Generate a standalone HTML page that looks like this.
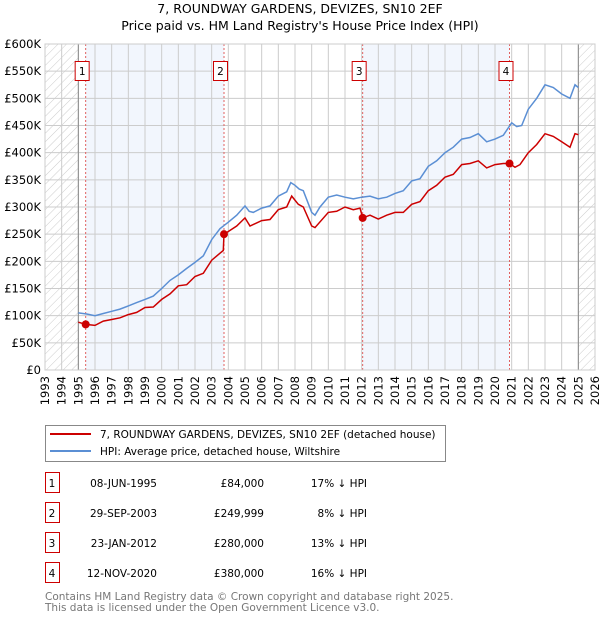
<!DOCTYPE html>
<html><head><meta charset="utf-8"><style>
body{margin:0;background:#fff;font-family:"DejaVu Sans","Liberation Sans",sans-serif;}
svg text{font-family:"DejaVu Sans","Liberation Sans",sans-serif;}
</style></head><body>
<svg id="chart" width="600" height="620" xmlns="http://www.w3.org/2000/svg">
<text x="300" y="13" font-size="12.5" text-anchor="middle">7, ROUNDWAY GARDENS, DEVIZES, SN10 2EF</text>
<text x="300" y="30" font-size="12.5" text-anchor="middle">Price paid vs. HM Land Registry's House Price Index (HPI)</text>
<g id="plot"></g>
<g>
<rect x="45.5" y="425.5" width="400" height="36" fill="#fff" stroke="#888"/>
<line x1="50" y1="434" x2="91" y2="434" stroke="#cc0000" stroke-width="2"/>
<text x="100" y="438" font-size="10.5">7, ROUNDWAY GARDENS, DEVIZES, SN10 2EF (detached house)</text>
<line x1="50" y1="451" x2="91" y2="451" stroke="#5b8fd4" stroke-width="2"/>
<text x="100" y="455" font-size="10.5">HPI: Average price, detached house, Wiltshire</text>
</g>
<g id="table" font-size="10.5"></g>
<text x="45" y="600" font-size="10.5" fill="#777">Contains HM Land Registry data © Crown copyright and database right 2025.</text>
<text x="45" y="611" font-size="10.5" fill="#777">This data is licensed under the Open Government Licence v3.0.</text>
</svg>
<script>
const yTicks=[0,50,100,150,200,250,300,350,400,450,500,550,600];
const yTickLabels=["£0","£50K","£100K","£150K","£200K","£250K","£300K","£350K","£400K","£450K","£500K","£550K","£600K"];
const years=[1993,1994,1995,1996,1997,1998,1999,2000,2001,2002,2003,2004,2005,2006,2007,2008,2009,2010,2011,2012,2013,2014,2015,2016,2017,2018,2019,2020,2021,2022,2023,2024,2025,2026];
const hpiT=[1995.0,1995.5,1996,1996.5,1997,1997.5,1998,1998.5,1999,1999.5,2000,2000.5,2001,2001.5,2002,2002.5,2003,2003.5,2004,2004.5,2005,2005.25,2005.5,2006,2006.5,2007,2007.5,2007.75,2008,2008.25,2008.5,2009,2009.2,2009.5,2010,2010.5,2011,2011.5,2012,2012.5,2013,2013.5,2014,2014.5,2015,2015.5,2016,2016.5,2017,2017.5,2018,2018.5,2019,2019.5,2020,2020.5,2021,2021.3,2021.6,2022,2022.5,2023,2023.5,2024,2024.5,2024.8,2025.0];
const hpiV=[105,103,100,104,108,112,118,124,130,136,150,165,175,187,198,210,240,260,272,285,302,292,290,298,302,320,328,345,340,333,330,290,285,300,318,322,318,315,318,320,315,318,325,330,348,352,375,385,400,410,425,428,435,420,425,432,455,448,450,480,500,525,520,508,500,525,520];
const ppT=[1995.0,1995.44,1996,1996.5,1997,1997.5,1998,1998.5,1999,1999.5,2000,2000.5,2001,2001.5,2002,2002.5,2003,2003.5,2003.7,2003.74,2004,2004.5,2005,2005.3,2006,2006.5,2007,2007.5,2007.8,2008.2,2008.5,2009,2009.2,2010,2010.5,2011,2011.5,2011.9,2012.06,2012.5,2013,2013.5,2014,2014.5,2015,2015.5,2016,2016.5,2017,2017.5,2018,2018.5,2019,2019.5,2020,2020.5,2020.87,2021.2,2021.5,2022,2022.5,2023,2023.5,2024,2024.5,2024.8,2025.0];
const ppV=[88,84,82,90,93,96,102,106,115,116,130,140,155,157,172,178,202,215,220,250,255,265,280,265,275,277,295,300,320,305,300,265,262,290,292,300,295,298,280,285,278,285,290,290,305,310,330,340,355,360,378,380,385,372,378,380,380,373,378,400,415,435,430,420,410,435,433];
const saleT=[1995.44,2003.74,2012.06,2020.87];
const saleV=[84,250,280,380];
const saleLabels=["1","2","3","4"];
const saleDates=["08-JUN-1995","29-SEP-2003","23-JAN-2012","12-NOV-2020"];
const salePrices=["£84,000","£249,999","£280,000","£380,000"];
const saleHpi=["17% ↓ HPI","8% ↓ HPI","13% ↓ HPI","16% ↓ HPI"];

const X0=45,X1=595,Y0=370,Y1=44;
const x=t=>X0+(t-1993)/(2026-1993)*(X1-X0);
const y=v=>Y0-v/600*(Y0-Y1);
const NS="http://www.w3.org/2000/svg";
const plot=document.getElementById('plot');
function mk(tag,attrs,parent){const e=document.createElementNS(NS,tag);for(const k in attrs)e.setAttribute(k,attrs[k]);(parent||plot).appendChild(e);return e;}

// defs hatch
const defs=mk('defs',{});
const pat=mk('pattern',{id:'hatch',width:6,height:6,patternUnits:'userSpaceOnUse',patternTransform:'rotate(45)'},defs);
mk('line',{x1:0,y1:0,x2:0,y2:6,stroke:'#ccc','stroke-width':1},pat);

let bg=mk('rect',{x:X0,y:Y1,width:X1-X0,height:Y0-Y1,fill:'#fff'});


for(let i=0;i<2;i++){
  const r=mk('rect',{x:x(saleT[i*2]),y:Y1,width:x(saleT[i*2+1])-x(saleT[i*2]),height:Y0-Y1,fill:'#eef3fc',opacity:0.75});
  
  
}
let h1=mk('rect',{x:X0,y:Y1,width:x(1995)-X0,height:Y0-Y1,fill:'url(#hatch)'});


let h2=mk('rect',{x:x(2025.0),y:Y1,width:X1-x(2025.0),height:Y0-Y1,fill:'url(#hatch)'});



// grid
yTicks.forEach((v,i)=>{
  const l=mk('line',{x1:X0,x2:X1,y1:y(v),y2:y(v),stroke:'#ccc','stroke-width':1});
  
  
  const t=mk('text',{x:X0-4,y:y(v)+4,'font-size':11.5,'text-anchor':'end'});
  t.textContent=yTickLabels[i];
  
  
});
years.forEach(yr=>{
  const l=mk('line',{x1:x(yr),x2:x(yr),y1:Y1,y2:Y0,stroke:'#ccc','stroke-width':1});
  
  
  const tx=x(yr)+4,ty=Y0+6;
  const t=mk('text',{x:tx,y:ty,'font-size':11.5,'text-anchor':'end',transform:`rotate(-90 ${tx} ${ty})`});
  t.textContent=yr;
  
  
});
let v1=mk('line',{x1:x(1995),x2:x(1995),y1:Y1,y2:Y0,stroke:'#888'});


let v2=mk('line',{x1:x(2025.0),x2:x(2025.0),y1:Y1,y2:Y0,stroke:'#888'});



saleT.forEach((t,i)=>{
  const l=mk('line',{x1:x(t),x2:x(t),y1:Y1,y2:Y0,stroke:'#e06060','stroke-dasharray':'2,2','stroke-width':1});
  
  
});

const path=(T,V)=>T.map((t,i)=>(i?'L':'M')+x(t).toFixed(1)+','+y(V[i]).toFixed(1)).join('');
let hp=mk('path',{d:path(hpiT,hpiV),fill:'none',stroke:'#5b8fd4','stroke-width':1.5});


let pp=mk('path',{d:path(ppT,ppV),fill:'none',stroke:'#cc0000','stroke-width':1.5});



saleT.forEach((t,i)=>{
  const c=mk('circle',{cx:x(t),cy:y(saleV[i]),r:4,fill:'#cc0000'});
  
  
  const bx=x(t)-11;
  const r=mk('rect',{x:bx+0.5,y:61.5,width:14,height:19,fill:'#fff',stroke:'#cc0000'});
  
  
  const tx=mk('text',{x:bx+7.5,y:75,'font-size':10.5,'text-anchor':'middle'});
  tx.textContent=saleLabels[i];
  
  
});
let fr=mk('rect',{x:X0,y:Y1,width:X1-X0,height:Y0-Y1,fill:'none',stroke:'#ccc'});



const tbl=document.getElementById('table');
saleT.forEach((t,i)=>{
  const cy=483+i*30;
  const r=mk('rect',{x:45.5,y:cy-10.5,width:14,height:20,fill:'#fff',stroke:'#cc0000'},tbl);
  
  
  const cells=[[52,saleLabels[i],'middle'],[157,saleDates[i],'end'],[264,salePrices[i],'end'],[367,saleHpi[i],'end']];
  const names=['row-number','row-date','row-price','row-hpi-diff'];
  cells.forEach((c,j)=>{
    const e=mk('text',{x:c[0],y:cy+4,'text-anchor':c[2]},tbl);
    e.textContent=c[1];
    
    
  });
});
</script>
</body></html>
